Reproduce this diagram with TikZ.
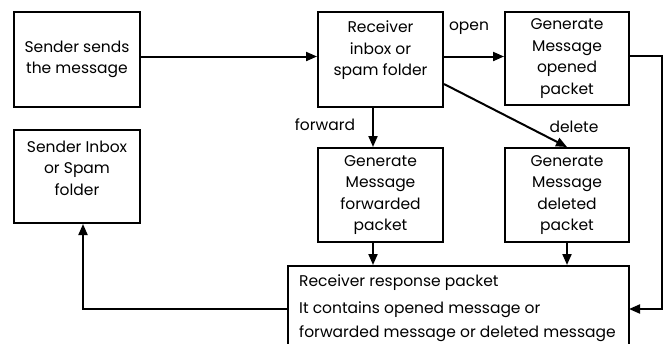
\documentclass[tikz,border=0pt]{standalone}
\usepackage{fontspec}
\setmainfont{Poppins}
\usetikzlibrary{arrows.meta}
\begin{document}
\begin{tikzpicture}[x=1pt,y=-1pt,
  every node/.style={font=\fontsize{15.5}{21.5}\selectfont},
  box/.style={draw,line width=2pt,rectangle,align=center,inner sep=0pt},
  arr/.style={line width=2pt,-{Triangle[length=11pt,width=9pt]}},
  lbl/.style={inner sep=0pt,align=center}]
\useasboundingbox (0,0) rectangle (663,343);

% boxes
\node[box,minimum width=126pt,minimum height=95pt] (send) at (77,59.5) {Sender sends\\the message};
\node[box,minimum width=126pt,minimum height=93pt] (inbox) at (77,176.5) {};
\node[lbl] (inboxtxt) at (77,168) {Sender Inbox\\or Spam\\folder};
\node[box,minimum width=125pt,minimum height=95pt] (recv) at (380.5,59.5) {};
\node[lbl] (recvtxt) at (380.5,50.5) {Receiver\\inbox or\\spam folder};
\node[box,minimum width=124pt,minimum height=93pt] (open) at (567,58.5) {Generate\\Message\\opened\\packet};
\node[box,minimum width=125pt,minimum height=94pt] (fwd) at (380.5,195) {Generate\\Message\\forwarded\\packet};
\node[box,minimum width=124pt,minimum height=94pt] (del) at (567,195) {Generate\\Message\\deleted\\packet};
\node[box,minimum width=341pt,minimum height=90pt] (resp) at (458.5,311) {};
\node[lbl,anchor=north west,align=left,font=\fontsize{15.5}{24}\selectfont] (resptxt) at ([xshift=12pt,yshift=-9pt]resp.north west)
  {Receiver response packet\\[3pt]It contains opened message or\\forwarded message or deleted message};

% labels on the branches
\node[lbl] (lopen) at (469,28) {open};
\node[lbl] (lfwd) at (325,125) {forward};
\node[lbl] (ldel) at (574,127) {delete};

% connectors
\coordinate (respin) at (629,309);
\coordinate (respout) at (288,309);
\draw[arr] (send.east) ++(0,-3) -- ([yshift=3pt]recv.west);
\draw[arr] ([yshift=3pt]recv.east) -- ([yshift=3pt]recv.east -| open.west);
\draw[arr] ([xshift=-7.5pt]recv.south) -- ([xshift=-7.5pt]fwd.north);
\draw[arr] ([yshift=-24.5pt]recv.east) -- (del.north);
\draw[arr] ([xshift=-7.5pt]fwd.south) -- ([xshift=-7.5pt]fwd.south |- resp.north);
\draw[arr] (del.south) -- (del.south |- resp.north);
\draw[arr] ([yshift=2.5pt]open.east) -- ++(32,0) |- (respin);
\draw[arr] (respout) -| ([xshift=6pt]inbox.south);
\end{tikzpicture}
\end{document}
